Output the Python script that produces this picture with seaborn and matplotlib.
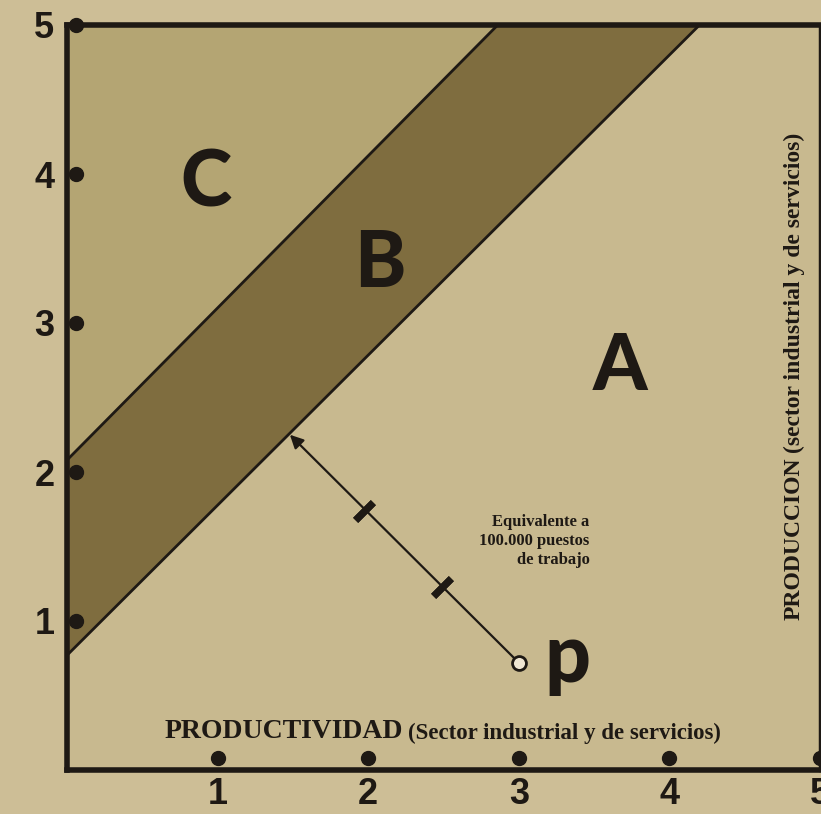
import numpy as np
import pandas as pd
import matplotlib.pyplot as plt
import seaborn as sns

# ticks
x_ticks = [1, 2, 3, 4, 5]
y_ticks = [1, 2, 3, 4, 5]

# rectas que limitan la franja B
lower_x = [0.0, 4.20]
lower_y = [0.77, 5.0]
upper_x = [0.0, 2.86]
upper_y = [2.08, 5.0]

# punto p, flecha y marcas
p_x, p_y = 3.0, 0.72
foot_x, foot_y = 1.48, 2.25
marks_x = [2.49, 1.97]
marks_y = [1.23, 1.74]

region_labels = ["C", "B", "A"]
region_x = [0.92, 2.08, 3.67]
region_y = [3.93, 3.39, 2.70]

ink = "#1e1914"
bg = "#cdbe96"

sns.set_theme(style="white")
plt.rcParams["font.family"] = ["Liberation Sans", "DejaVu Sans"]

fig = plt.figure(figsize=(8.21, 8.14), dpi=100, facecolor=bg)
ax = fig.add_axes([67/821, 44/814, 753/821, 745/814])
ax.set_xlim(0, 5)
ax.set_ylim(0, 5)
ax.set_facecolor("#c8b98f")

# regiones
ax.fill([lower_x[0], 5, 5, lower_x[1], lower_x[0]], [0, 0, 5, lower_y[1], lower_y[0]],
        color="#c8b98f", lw=0)
ax.fill([lower_x[0], lower_x[1], upper_x[1], upper_x[0]],
        [lower_y[0], lower_y[1], upper_y[1], upper_y[0]], color="#7f6d3f", lw=0)
ax.fill([upper_x[0], upper_x[1], upper_x[0]], [upper_y[0], upper_y[1], 5],
        color="#b4a573", lw=0)

sns.lineplot(x=lower_x, y=lower_y, color=ink, lw=2, ax=ax)
sns.lineplot(x=upper_x, y=upper_y, color=ink, lw=2, ax=ax)

# flecha desde p
ax.annotate("", xy=(foot_x, foot_y), xytext=(p_x, p_y),
            arrowprops=dict(arrowstyle="-|>", color=ink, lw=1.6,
                            mutation_scale=20, shrinkA=5, shrinkB=0))
ax.plot(marks_x, marks_y, ls="none", marker=(2, 2, -45), ms=18, mew=5, color=ink)
ax.plot([p_x], [p_y], marker="o", ms=10, mfc="#efe6d2", mec=ink, mew=2)

for lab, x, y in zip(region_labels, region_x, region_y):
    ax.text(x, y, lab, fontsize=56, fontweight="black", family=["Lato", "DejaVu Sans"],
            color=ink, ha="center", va="center")
ax.text(3.32, 0.59, "p", fontsize=58, fontweight="black", family=["Lato", "DejaVu Sans"],
        color=ink, ha="center", va="baseline")

ax.text(3.47, 1.54, "Equivalente a\n100.000 puestos\nde trabajo", fontsize=12,
        fontweight="bold", family=["Liberation Serif"], color=ink, ha="right",
        va="center", linespacing=1.25)

# etiquetas de ejes
t1 = ax.text(0.65, 0.215, "PRODUCTIVIDAD", fontsize=20, fontweight="bold",
             family=["Liberation Serif"], color=ink, ha="left", va="baseline")
ax.annotate("(Sector industrial y de servicios)", xy=(1, 0), xycoords=t1,
            xytext=(3, 0), textcoords="offset points", fontsize=16.5, fontweight="bold",
            family=["Liberation Serif"], color=ink, ha="left", va="bottom")

t2 = ax.text(4.9, 1.01, "PRODUCCION", fontsize=17, fontweight="bold", rotation=90,
             family=["Liberation Serif"], color=ink, ha="right", va="bottom")
ax.annotate("(sector industrial y de servicios)", xy=(1, 1), xycoords=t2,
            xytext=(0, 3), textcoords="offset points", fontsize=17, fontweight="bold",
            rotation=90, family=["Liberation Serif"], color=ink, ha="right", va="bottom")

# puntos de las marcas de los ejes
ax.plot(x_ticks, [0.08] * len(x_ticks), ls="none", marker="o", ms=10, color=ink, clip_on=False)
ax.plot([0.06] * len(y_ticks), y_ticks, ls="none", marker="o", ms=10, color=ink, clip_on=False)

ax.set_xticks(x_ticks)
ax.set_xticklabels([str(t) for t in x_ticks])
ax.set_yticks(y_ticks)
ax.set_yticklabels([str(t) for t in y_ticks])
ax.tick_params(axis="both", length=0, labelsize=26, colors=ink)
ax.tick_params(axis="x", pad=5)
ax.tick_params(axis="y", pad=9)
for lab in ax.get_xticklabels() + ax.get_yticklabels():
    lab.set_fontweight("bold")

for side in ["left", "bottom", "top"]:
    ax.spines[side].set_linewidth(4)
    ax.spines[side].set_color(ink)
ax.spines["right"].set_linewidth(2.5)
ax.spines["right"].set_color(ink)

fig.savefig("out.png", dpi=100, facecolor=bg)
